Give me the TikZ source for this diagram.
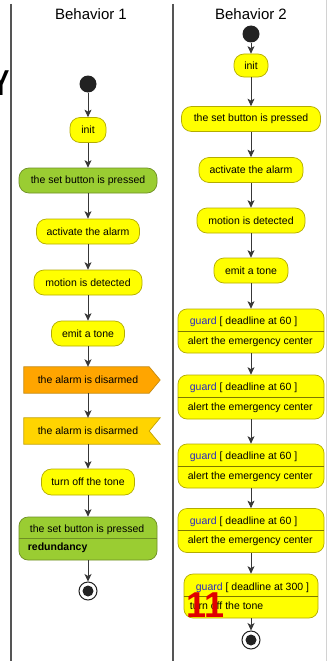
\documentclass[tikz,border=0pt]{standalone}
\usepackage{fontspec}
\setmainfont{Liberation Sans}
\usetikzlibrary{arrows.meta,backgrounds}
\definecolor{actfill}{HTML}{FFFF00}
\definecolor{actline}{HTML}{B3AC00}
\definecolor{grnfill}{HTML}{9ACD32}
\definecolor{grnline}{HTML}{6E8F24}
\definecolor{orgfill}{HTML}{FFA500}
\definecolor{orgline}{HTML}{C48A10}
\definecolor{goldfill}{HTML}{FFD400}
\definecolor{goldline}{HTML}{C2A200}
\definecolor{flowc}{HTML}{383838}
\definecolor{lanec}{HTML}{555555}
\definecolor{guardc}{HTML}{2B2BC0}
\definecolor{dotc}{HTML}{222222}
\definecolor{markred}{HTML}{E00000}

\begin{document}
\begin{tikzpicture}[x=1pt,y=-1pt,
  every node/.style={font=\fontsize{10.5}{12}\selectfont, inner sep=0pt},
  act/.style={draw=actline, fill=actfill, line width=0.7pt, rounded corners=10pt, minimum height=25pt},
  grn/.style={draw=grnline, fill=grnfill, line width=0.7pt, rounded corners=10pt, minimum height=25pt},
  guardbox/.style={draw=actline, fill=actfill, line width=0.7pt, rounded corners=9pt, minimum height=44pt},
  sigbox/.style={minimum height=26pt, minimum width=128pt},
  startc/.style={circle, fill=dotc, minimum size=17pt},
  endc/.style={circle, draw=dotc, fill=white, line width=1pt, minimum size=18pt,
    path picture={\fill[dotc] (path picture bounding box.center) circle (5.5pt);}},
  flow/.style={draw=flowc, line width=0.8pt, -{Stealth[length=7.5pt,width=7pt,inset=2pt]}},
  lane/.style={draw=lanec, line width=1.4pt},
  title/.style={font=\fontsize{15}{18}\selectfont},
  linetxt/.style={anchor=west}
]
\useasboundingbox (0,0) rectangle (328,661);
\begin{scope}[on background layer]
  \fill[white] (0,0) rectangle (328,661);
\end{scope}

% swimlane borders
\draw[lane] (11,4) -- (11,661);
\draw[lane] (173,4) -- (173,661);
\draw[gray!35, line width=1pt] (326,0) -- (326,661);
\node[anchor=north east, xscale=0.72, transform shape,
      font=\fontsize{36}{40}\selectfont\bfseries] (ylet) at (9.5,71) {Y};

% lane titles
\node[title] (t1) at (91,14) {Behavior 1};
\node[title] (t2) at (251,14) {Behavior 2};

% ---------- Behavior 1 ----------
\node[startc] (s1) at (88,84) {};
\node[act, minimum width=36pt] (i1) at (88,130) {init};
\node[grn, minimum width=138pt] (p1) at (88,180.5) {the set button is pressed};
\node[act, minimum width=103pt] (a1) at (88,231.5) {activate the alarm};
\node[act, minimum width=108pt] (m1) at (88,282.5) {motion is detected};
\node[act, minimum width=73pt] (e1) at (88,333.5) {emit a tone};
\node[sigbox] (snd) at (88,380) {the alarm is disarmed};
\node[sigbox] (rcv) at (88,431) {the alarm is disarmed};
\node[act, minimum width=93pt, minimum height=26pt] (o1) at (88,482) {turn off the tone};
\node[grn, minimum width=138pt, minimum height=43pt, rounded corners=9pt] (r1) at (88,538.5) {};
\draw[grnline, line width=0.7pt] (r1.west) -- (r1.east);
\node[linetxt] (r1a) at ([xshift=11pt,yshift=8.5pt]r1.west) {the set button is pressed};
\node[linetxt, font=\fontsize{10.5}{12}\selectfont\bfseries] (r1b) at ([xshift=9pt,yshift=-9.5pt]r1.west) {redundancy};
\node[endc] (f1) at (88,591) {};

\begin{scope}[on background layer]
  \draw[orgline, fill=orgfill, line width=0.7pt]
    (snd.north west) -- ([xshift=-3pt]snd.north east) -- ([xshift=8pt]snd.east)
    -- ([xshift=-3pt]snd.south east) -- (snd.south west) -- cycle;
  \draw[goldline, fill=goldfill, line width=0.7pt]
    (rcv.north west) -- ([xshift=8pt]rcv.north east) -- ([xshift=-3pt]rcv.east)
    -- ([xshift=8pt]rcv.south east) -- (rcv.south west) -- cycle;
\end{scope}

\draw[flow] (s1) -- (i1.north);
\draw[flow] (i1.south) -- (p1.north);
\draw[flow] (p1.south) -- (a1.north);
\draw[flow] (a1.south) -- (m1.north);
\draw[flow] (m1.south) -- (e1.north);
\draw[flow] (e1.south) -- (snd.north);
\draw[flow] (snd.south) -- (rcv.north);
\draw[flow] (rcv.south) -- (o1.north);
\draw[flow] (o1.south) -- (r1.north);
\draw[flow] (r1.south) -- (f1);

% ---------- Behavior 2 ----------
\node[startc] (s2) at (251,34) {};
\node[act, minimum width=34pt, minimum height=23pt] (i2) at (251,65.5) {init};
\node[act, minimum width=139pt] (p2) at (251,119) {the set button is pressed};
\node[act, minimum width=104pt] (a2) at (251,170) {activate the alarm};
\node[act, minimum width=108pt] (m2) at (251,220.5) {motion is detected};
\node[act, minimum width=74pt] (e2) at (251,270.5) {emit a tone};

\node[guardbox, minimum width=146pt] (g1) at (251,331) {};
\node[guardbox, minimum width=146pt] (g2) at (251,397) {};
\node[guardbox, minimum width=146pt] (g3) at (251,466) {};
\node[guardbox, minimum width=146pt] (g4) at (251,530.5) {};
\node[guardbox, minimum width=134pt] (g5) at (251,596) {};
\foreach \g in {g1,g2,g3,g4,g5}{
  \draw[actline!70!black, line width=0.7pt] (\g.west) -- (\g.east);
}
\foreach \g in {g1,g2,g3,g4}{
  \node[linetxt] (\g a) at ([xshift=12pt,yshift=9pt]\g.west) {\textcolor{guardc}{guard} [ deadline at 60 ]};
  \node[linetxt] (\g b) at ([xshift=10pt,yshift=-10.5pt]\g.west) {alert the emergency center};
}
\node[linetxt] (g5a) at ([xshift=12pt,yshift=8.5pt]g5.west) {\textcolor{guardc}{guard} [ deadline at 300 ]};
\node[linetxt] (g5b) at ([xshift=6pt,yshift=-10pt]g5.west) {turn off the tone};
\node[endc] (f2) at (251,640) {};

\draw[flow] (s2) -- (i2.north);
\draw[flow] (i2.south) -- (p2.north);
\draw[flow] (p2.south) -- (a2.north);
\draw[flow] (a2.south) -- (m2.north);
\draw[flow] (m2.south) -- (e2.north);
\draw[flow] (e2.south) -- (g1.north);
\draw[flow] (g1.south) -- (g2.north);
\draw[flow] (g2.south) -- (g3.north);
\draw[flow] (g3.south) -- (g4.north);
\draw[flow] (g4.south) -- (g5.north);
\draw[flow] (g5.south) -- (f2);

% red number over the last guard box
\node[anchor=base west, text=markred, font=\fontsize{36}{40}\selectfont\bfseries] (num) at (186.5,617) {11};
\end{tikzpicture}
\end{document}
